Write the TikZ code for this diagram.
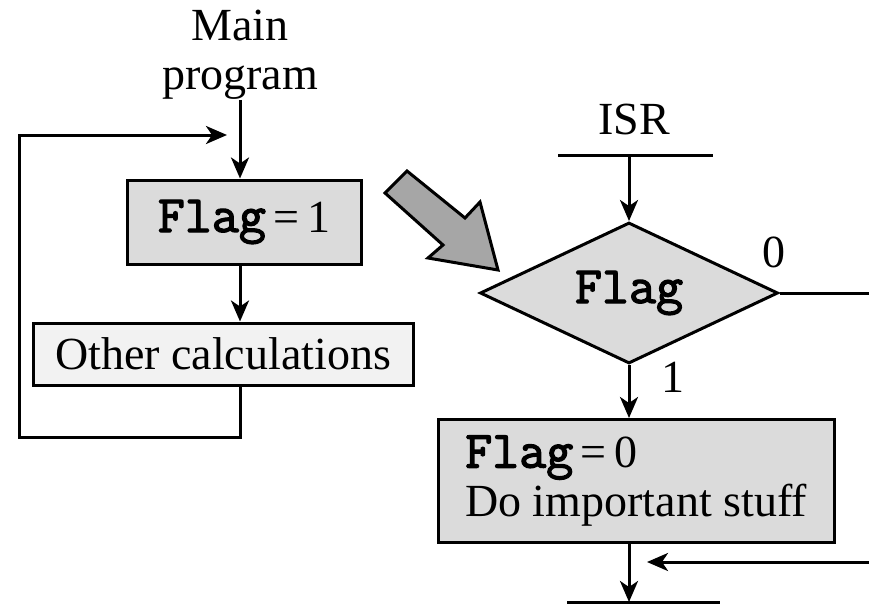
\documentclass[tikz,border=0pt]{standalone}
\usepackage{fontspec}
\setmainfont{Liberation Serif}
\newfontfamily\flagfont{Latin Modern Mono}[FakeBold=2.5, Scale=1.14]
\usetikzlibrary{arrows.meta,shapes.geometric,calc,positioning}
\newcommand{\flg}{{\flagfont Flag}}
\tikzset{
  flow/.style={-{Stealth[length=21pt,width=18pt,inset=6pt]}, line width=3pt},
  wire/.style={line width=3pt},
  txt/.style={font=\fontsize{46}{49}\selectfont, inner sep=0pt},
  procbox/.style={txt, draw, line width=3pt, fill=black!14},
  calcbox/.style={txt, draw, line width=3pt, fill=black!5},
  decision/.style={txt, diamond, draw, line width=3pt, fill=black!14, aspect=2.1, minimum width=298pt, minimum height=141pt},
  bigarrow/.style={draw, line width=3pt, fill=black!35, line join=miter}
}
\begin{document}
\begin{tikzpicture}[x=1pt,y=-1pt]
  \useasboundingbox (0,0) rectangle (869,607);
  % main program with its loop
  \node[txt, align=center, anchor=north] (main) at (240,10) {Main\\program};
  \node[procbox, minimum width=234pt, minimum height=84pt] (set1) at (244,222) {\flg\,=\,1};
  \node[calcbox, minimum width=380pt, minimum height=62pt] (other) at (223,354) {Other calculations};
  \coordinate (back) at (227,135);
  \draw[flow] (main.south) -- (main.south |- set1.north);
  \draw[flow] (set1.south -| main) -- (other.north -| main);
  \draw[flow] (other.south -| main) -- ++(0,51) -| (19,135) -- (back);
  % interrupt routine
  \node[txt, anchor=base] (isr) at (634,135) {ISR};
  \coordinate (isrl) at (558,155);
  \coordinate (isrr) at (713,155);
  \draw[wire] (isrl) -- (isrr);
  \node[decision] (test) at (629,293) {\flg};
  \draw[flow] (test |- isrl) -- (test.north);
  \node[txt] (zero) at (774,252) {0};
  \coordinate (out0) at (869,293);
  \draw[wire] (test.east) -- (out0);
  \node[procbox, align=left, minimum width=396pt, minimum height=123pt] (clear) at (636,481) {\flg\,=\,0\\Do important stuff};
  \draw[flow] (test.south) -- (clear.north -| test);
  \node[txt] (one) at (673,377) {1};
  \coordinate (join) at (869,562);
  \coordinate (joinend) at (647,562);
  \draw[flow] (join) -- (joinend);
  \coordinate (endl) at (567,602);
  \coordinate (endr) at (720,602);
  \draw[flow] (clear.south -| test) -- (test |- endl);
  \draw[wire] (endl) -- (endr);
  % big grey arrow
  \draw[bigarrow] (385,193) -- (407,171) -- (465,218) -- (480,202) -- (498,270) -- (428,258) -- (443,245) -- cycle;
\end{tikzpicture}
\end{document}
